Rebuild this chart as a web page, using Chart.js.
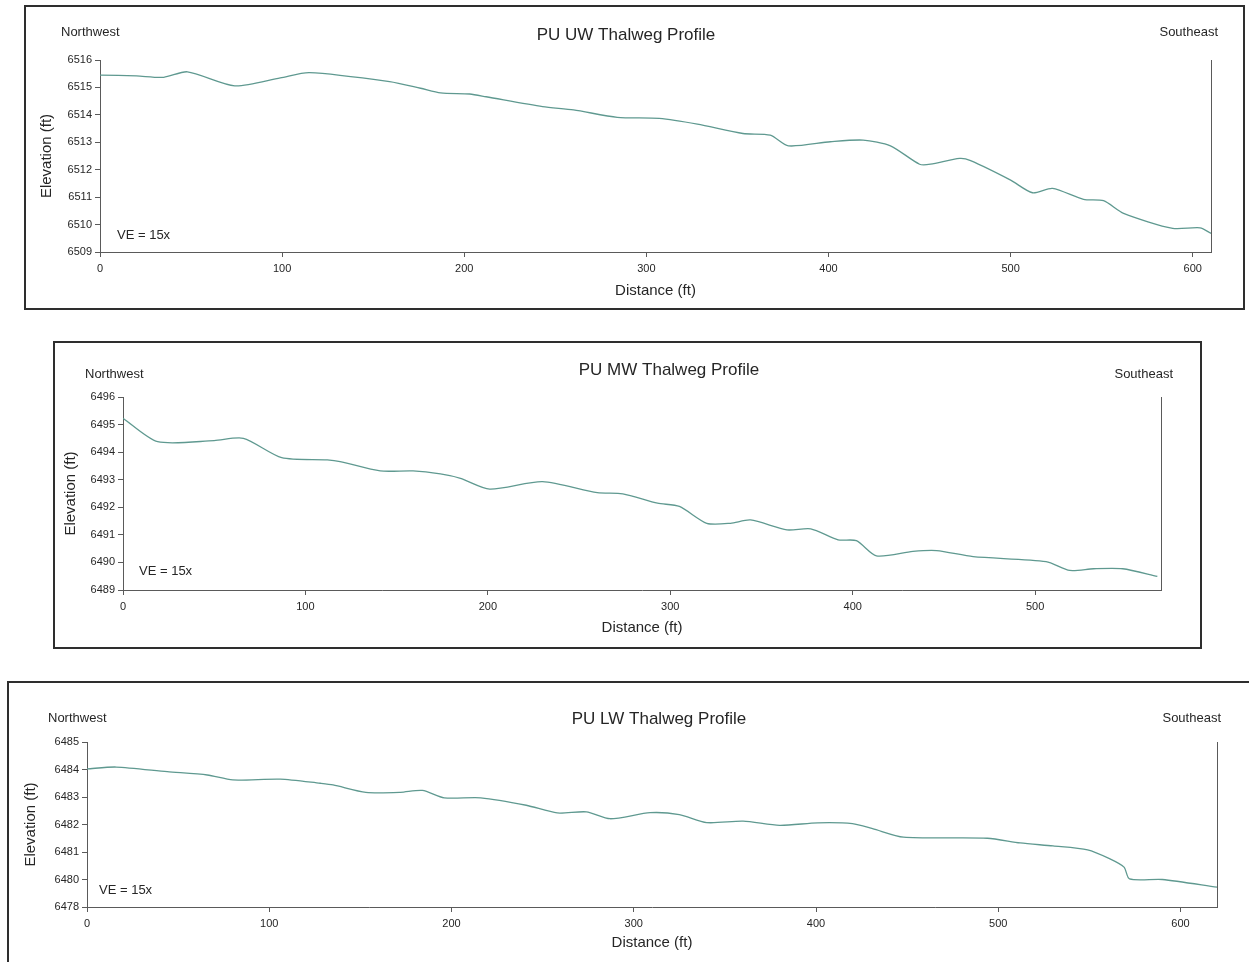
<!DOCTYPE html>
<html>
<head>
<meta charset="utf-8">
<script src="https://cdn.jsdelivr.net/npm/chart.js@4.4.1/dist/chart.umd.min.js"></script>
<style>
  body { margin: 0; background: #fff; width: 1249px; height: 962px; overflow: hidden; position: relative; }
  .frame { position: absolute; box-sizing: border-box; border: 2px solid #2e2e2e; }
  canvas { position: absolute; }
</style>
</head>
<body>
<script>
// === Data ===
const uwDistance = [0, 20, 35, 48, 74, 99, 115, 159, 176, 187, 203, 212, 243, 260, 284, 307, 328, 353, 368, 378,
  401, 419, 434, 450, 456, 472, 478, 500, 512, 523, 540, 551, 562, 589, 604, 610];
const uwElevation = [6515.45, 6515.42, 6515.37, 6515.57, 6515.06, 6515.35, 6515.54, 6515.21, 6514.97, 6514.80, 6514.76, 6514.66,
  6514.30, 6514.18, 6513.91, 6513.87, 6513.66, 6513.32, 6513.26, 6512.87, 6513.02, 6513.08, 6512.87, 6512.20, 6512.20,
  6512.41, 6512.33, 6511.62, 6511.16, 6511.32, 6510.92, 6510.87, 6510.41, 6509.86, 6509.88, 6509.68];

const mwDistance = [0, 19, 50, 66, 87, 112, 119, 141, 159, 174, 185, 201, 230, 260, 274, 293, 305, 320, 333, 344,
  364, 377, 392, 402, 413, 433, 446, 466, 506, 519, 532, 548, 567];
const mwElevation = [6495.23, 6494.38, 6494.42, 6494.50, 6493.80, 6493.72, 6493.66, 6493.32, 6493.32, 6493.21, 6493.05,
  6492.66, 6492.93, 6492.53, 6492.49, 6492.15, 6492.03, 6491.42, 6491.42, 6491.54, 6491.18, 6491.22, 6490.82, 6490.79,
  6490.24, 6490.40, 6490.43, 6490.21, 6490.03, 6489.71, 6489.77, 6489.77, 6489.49];

const lwDistance = [0, 16, 44, 66, 80, 106, 128, 135, 153, 172, 184, 196, 216, 241, 258, 274, 287, 309, 325, 340,
  360, 380, 401, 420, 431, 448, 494, 512, 530, 549, 561, 569, 572, 590, 620];
const lwElevation = [6484.02, 6484.09, 6483.92, 6483.80, 6483.62, 6483.65, 6483.50, 6483.44, 6483.17, 6483.17, 6483.24,
  6482.97, 6482.97, 6482.70, 6482.42, 6482.46, 6482.21, 6482.43, 6482.36, 6482.07, 6482.12, 6481.97, 6482.06, 6482.03,
  6481.85, 6481.54, 6481.50, 6481.33, 6481.22, 6481.08, 6480.76, 6480.45, 6480.02, 6480.00, 6479.72];

// tick values and the labels printed at them
const uwXTicks = [0, 100, 200, 300, 400, 500, 600];
const uwYTicks = [6509, 6510, 6511, 6512, 6513, 6514, 6515, 6516];
const uwYLabels = ['6509', '6510', '6511', '6512', '6513', '6514', '6515', '6516'];
const mwXTicks = [0, 100, 200, 300, 400, 500];
const mwYTicks = [6489, 6490, 6491, 6492, 6493, 6494, 6495, 6496];
const mwYLabels = ['6489', '6490', '6491', '6492', '6493', '6494', '6495', '6496'];
const lwXTicks = [0, 100, 200, 300, 400, 500, 600];
const lwYTicks = [6479, 6480, 6481, 6482, 6483, 6484, 6485];
const lwYLabels = ['6478', '6480', '6481', '6482', '6483', '6484', '6485'];  // bottom label printed as 6478 in the original

const FONT = '"Liberation Sans", Arial, sans-serif';
const TEXT = '#262626';
const AXIS = '#5a5a5a';
const LINE = '#5f9990';

// page geometry of each panel: frame box, plot area, title text placement
const panels = [
  {
    title: 'PU UW Thalweg Profile', dist: uwDistance, elev: uwElevation, xMax: 610,
    xTicks: uwXTicks, yTicks: uwYTicks, yLabels: uwYLabels,
    box: { x: 24, y: 5, w: 1221, h: 305 }, area: { l: 100, t: 60, r: 1211, b: 252 }, padL: 10, padB: 6,
    titlePos: [626, 35], nwPos: [61, 32.5], sePos: [1218, 32.5], vePos: [117, 235]
  },
  {
    title: 'PU MW Thalweg Profile', dist: mwDistance, elev: mwElevation, xMax: 569,
    xTicks: mwXTicks, yTicks: mwYTicks, yLabels: mwYLabels,
    box: { x: 53, y: 341, w: 1149, h: 308 }, area: { l: 123, t: 397, r: 1161, b: 590 }, padL: 5, padB: 8,
    titlePos: [669, 370], nwPos: [85, 374.5], sePos: [1173, 374.5], vePos: [139, 571.5]
  },
  {
    title: 'PU LW Thalweg Profile', dist: lwDistance, elev: lwElevation, xMax: 620,
    xTicks: lwXTicks, yTicks: lwYTicks, yLabels: lwYLabels,
    box: { x: 7, y: 681, w: 1250, h: 294 }, area: { l: 87, t: 742, r: 1217, b: 907 }, padL: 11, padB: 19,
    titlePos: [659, 719], nwPos: [48, 718], sePos: [1221, 718], vePos: [99, 890.5]
  }
];

panels.forEach(p => {
  const frame = document.createElement('div');
  frame.className = 'frame';
  Object.assign(frame.style, { left: p.box.x + 'px', top: p.box.y + 'px', width: p.box.w + 'px', height: p.box.h + 'px' });
  document.body.appendChild(frame);

  const canvas = document.createElement('canvas');
  canvas.width = p.box.w;
  canvas.height = p.box.h;
  Object.assign(canvas.style, { left: p.box.x + 'px', top: p.box.y + 'px', width: p.box.w + 'px', height: p.box.h + 'px' });
  document.body.appendChild(canvas);

  const yAxisW = p.area.l - p.box.x - p.padL;
  const xAxisH = p.box.y + p.box.h - p.padB - p.area.b;
  const ox = p.box.x, oy = p.box.y;

  // title, direction labels, VE note and the closing right-hand line
  const decor = {
    id: 'decor',
    afterDraw(chart) {
      const { ctx, chartArea: a } = chart;
      ctx.save();
      ctx.strokeStyle = AXIS;
      ctx.lineWidth = 1;
      ctx.beginPath();
      ctx.moveTo(Math.round(a.right) + 0.5, a.top);
      ctx.lineTo(Math.round(a.right) + 0.5, a.bottom);
      ctx.stroke();
      ctx.fillStyle = TEXT;
      ctx.textBaseline = 'middle';
      ctx.font = '17px ' + FONT;
      ctx.textAlign = 'center';
      ctx.fillText(p.title, p.titlePos[0] - ox, p.titlePos[1] - oy);
      ctx.font = '13px ' + FONT;
      ctx.textAlign = 'left';
      ctx.fillText('Northwest', p.nwPos[0] - ox, p.nwPos[1] - oy);
      ctx.fillText('VE = 15x', p.vePos[0] - ox, p.vePos[1] - oy);
      ctx.textAlign = 'right';
      ctx.fillText('Southeast', p.sePos[0] - ox, p.sePos[1] - oy);
      ctx.restore();
    }
  };

  new Chart(canvas.getContext('2d'), {
    type: 'line',
    data: {
      datasets: [{
        data: p.dist.map((d, i) => ({ x: d, y: p.elev[i] })),
        borderColor: LINE,
        borderWidth: 1.3,
        pointRadius: 0,
        tension: 0.25,
        fill: false
      }]
    },
    options: {
      responsive: false,
      animation: false,
      layout: {
        padding: { left: p.padL, top: p.area.t - oy, right: p.box.x + p.box.w - p.area.r, bottom: p.padB }
      },
      plugins: { legend: { display: false }, tooltip: { enabled: false } },
      scales: {
        x: {
          type: 'linear', min: 0, max: p.xMax,
          afterBuildTicks: s => { s.ticks = p.xTicks.map(v => ({ value: v })); },
          afterFit: s => { s.height = xAxisH; },
          grid: { display: true, drawOnChartArea: false, drawTicks: true, tickLength: 5, color: AXIS },
          border: { display: true, color: AXIS, width: 1 },
          ticks: { font: { size: 11, family: FONT }, color: TEXT, padding: 5, maxRotation: 0, autoSkip: false,
            callback: v => String(v) },
          title: { display: true, text: 'Distance (ft)', color: TEXT, font: { size: 15, family: FONT }, padding: { top: 4, bottom: 4 } }
        },
        y: {
          type: 'linear', min: p.yTicks[0], max: p.yTicks[p.yTicks.length - 1],
          afterBuildTicks: s => { s.ticks = p.yTicks.map(v => ({ value: v })); },
          afterFit: s => { s.width = yAxisW; },
          grid: { display: true, drawOnChartArea: false, drawTicks: true, tickLength: 5, color: AXIS },
          border: { display: true, color: AXIS, width: 1 },
          ticks: { font: { size: 11, family: FONT }, color: TEXT, padding: 3, autoSkip: false,
            callback: (v, i) => p.yLabels[i] },
          title: { display: true, text: 'Elevation (ft)', color: TEXT, font: { size: 15, family: FONT }, padding: { top: 4, bottom: 4 } }
        }
      }
    },
    plugins: [decor]
  });
});
</script>
</body>
</html>
